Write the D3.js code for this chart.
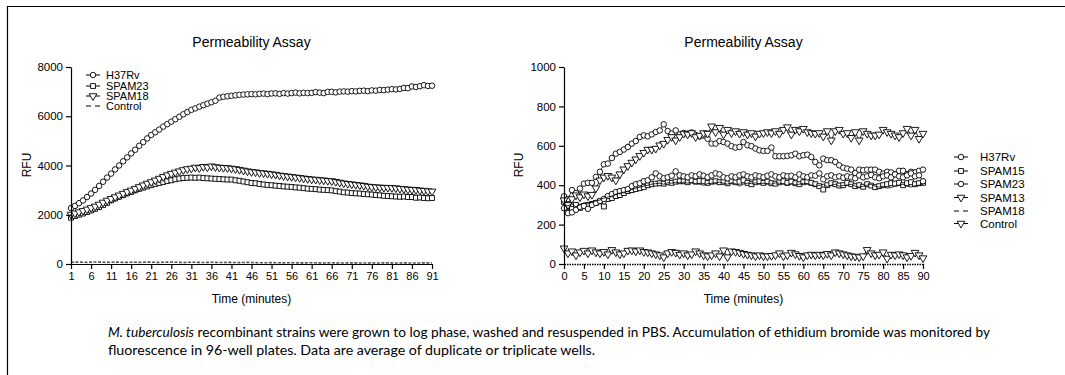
<!DOCTYPE html>
<html><head><meta charset="utf-8">
<script src="https://cdn.jsdelivr.net/npm/d3@7"></script>
<style>body{margin:0;background:#fff}svg{display:block}</style>
</head><body><svg id="c" width="1065" height="375"></svg>
<script>
// ---------------- DATA ----------------
const timeLeft = d3.range(1, 92);
const timeRight = d3.range(0, 91);
const leftXTicks = [1,6,11,16,21,26,31,36,41,46,51,56,61,66,71,76,81,86,91];
const rightXTicks = [0,5,10,15,20,25,30,35,40,45,50,55,60,65,70,75,80,85,90];
const leftYTicks = [0,2000,4000,6000,8000];
const rightYTicks = [0,200,400,600,800,1000];
const leftNames = ["H37Rv","SPAM23","SPAM18","Control"];
const rightNames = ["H37Rv","SPAM15","SPAM23","SPAM13","SPAM18","Control"];

const leftH37Rv = [2270,2360,2470,2580,2720,2860,3010,3170,3340,3510,
 3670,3840,4000,4170,4330,4490,4640,4800,4950,5100,
 5240,5350,5460,5580,5680,5780,5880,5980,6080,6170,
 6260,6320,6390,6450,6510,6570,6630,6760,6790,6810,
 6830,6850,6870,6880,6890,6900,6890,6910,6920,6900,
 6925,6930,6910,6940,6920,6940,6960,6930,6950,6940,
 6950,6980,6960,6940,6990,6990,6970,7000,7010,7000,
 7020,7010,7030,7040,7020,7050,7040,7070,7060,7080,
 7100,7090,7110,7150,7140,7210,7190,7220,7260,7230,
 7240];
const leftSPAM23 = [1880,1950,2000,2050,2110,2170,2240,2310,2390,2480,
 2585,2660,2730,2800,2870,2925,2990,3050,3100,3150,
 3200,3250,3290,3330,3370,3400,3440,3470,3490,3500,
 3510,3500,3510,3490,3480,3470,3460,3450,3440,3430,
 3430,3400,3380,3350,3320,3290,3280,3250,3230,3210,
 3200,3180,3170,3150,3140,3130,3110,3100,3080,3060,
 3050,3040,3020,3010,3000,2990,2960,2940,2910,2900,
 2880,2870,2860,2840,2830,2820,2800,2790,2770,2760,
 2750,2740,2730,2740,2720,2720,2690,2700,2680,2670,
 2680];
const leftSPAM18 = [2010,2060,2110,2160,2220,2280,2340,2420,2500,2580,
 2650,2720,2790,2860,2930,2990,3060,3130,3200,3270,
 3330,3400,3470,3540,3610,3670,3720,3770,3820,3860,
 3880,3920,3900,3950,3930,3970,3940,3920,3910,3900,
 3880,3860,3830,3800,3770,3740,3730,3700,3690,3670,
 3650,3630,3600,3580,3560,3540,3520,3500,3480,3460,
 3440,3430,3410,3400,3380,3370,3340,3310,3280,3260,
 3240,3220,3200,3180,3150,3130,3120,3110,3100,3100,
 3090,3080,3060,3050,3030,3020,3010,2990,2980,2960,
 2950];
const leftControl = [70,75,80,72,68,75,82,78,70,65,
 72,76,70,64,68,74,70,66,72,78,
 74,68,64,70,76,80,72,66,62,68,
 74,70,64,60,66,70,64,58,62,68,
 64,60,56,62,66,60,55,50,48,52,
 56,52,48,46,50,54,50,46,44,48,
 52,48,44,42,46,50,46,42,40,44,
 48,44,40,38,42,46,42,40,44,48,
 44,40,42,46,44,40,38,42,46,44,
 40];

const rightH37Rv = [344,330,375,360,383,408,412,412,442,468,
 506,510,538,560,569,581,594,611,624,645,
 653,648,658,670,678,709,675,662,678,658,
 665,660,668,655,648,652,636,611,611,624,
 619,611,598,591,594,619,603,598,586,577,
 574,574,591,547,547,547,549,552,560,547,
 552,555,543,518,501,535,527,527,518,501,
 489,484,479,462,479,476,479,479,479,468,
 459,468,465,456,473,473,456,468,465,473,
 479];
const rightSPAM15 = [315,290,280,300,285,295,300,305,310,318,
 292,330,335,345,350,360,370,375,380,385,
 390,400,405,408,410,408,415,412,418,420,
 420,415,425,418,422,420,412,418,420,415,
 417,410,420,415,418,425,412,405,415,420,
 412,418,410,408,415,420,412,418,410,405,
 415,420,412,405,395,378,400,410,405,398,
 400,412,405,395,400,392,405,398,390,395,
 400,405,410,408,412,400,410,415,405,410,
 412];
const rightSPAM23 = [283,258,262,275,290,295,280,300,310,320,
 330,345,355,365,370,375,380,395,405,410,
 420,425,440,460,445,435,440,448,470,450,
 445,440,450,445,455,448,440,450,460,455,
 440,435,445,440,450,455,445,440,450,445,
 440,448,455,445,440,450,445,448,440,455,
 445,440,450,448,460,430,445,450,440,445,
 438,445,440,435,450,440,445,452,440,435,
 445,450,440,455,445,440,450,460,445,450,
 420];
const rightSPAM13 = [324,300,330,349,340,354,345,352,385,425,
 440,448,440,425,456,481,498,515,532,549,
 565,581,581,586,603,611,631,645,628,645,
 662,658,665,645,652,665,662,699,670,692,
 658,682,665,675,662,670,658,665,648,662,
 665,670,665,675,662,682,695,658,682,675,
 687,670,665,662,665,648,675,628,675,682,
 662,665,641,670,628,675,662,653,653,658,
 682,670,662,653,645,665,687,653,682,636,
 662];
const rightSPAM18 = [300,295,305,290,300,310,305,315,320,325,
 335,340,345,355,360,365,370,378,385,390,
 395,400,405,408,410,405,412,410,415,412,
 415,410,412,408,405,400,408,410,412,415,
 410,405,412,408,395,405,410,408,412,405,
 410,408,405,412,410,405,400,408,402,405,
 410,405,400,395,398,405,392,400,405,395,
 398,400,405,395,390,395,400,405,395,390,
 395,385,388,395,400,405,395,390,398,400,
 405];
const rightControl = [80,55,65,45,60,68,55,70,60,55,
 62,50,72,60,50,55,68,70,65,70,
 62,60,55,50,45,35,55,62,58,48,
 55,45,50,65,55,45,40,45,55,40,
 70,35,65,62,58,52,48,45,40,45,
 40,40,42,45,55,40,45,58,50,42,
 35,45,48,45,48,45,52,45,60,55,
 50,45,40,38,35,40,72,55,45,48,
 60,28,48,45,50,45,35,42,58,45,
 30];

const captionItalic = "M. tuberculosis";
const captionLine1 = " recombinant strains were grown to log phase, washed and resuspended in PBS. Accumulation of ethidium bromide was monitored by";
const captionLine2 = "fluorescence in 96-well plates. Data are average of duplicate or triplicate wells.";

// ---------------- DRAWING ----------------
const svg = d3.select("#c");
const FONT = "'Liberation Sans', Arial, Helvetica, sans-serif";

svg.append("path").attr("d", "M7.5,375 V6.5 H1065")
  .attr("fill", "none").attr("stroke", "#000").attr("stroke-width", 1.2);

const symGen = {
  circle: d3.symbol(d3.symbolCircle, 24),
  square: d3.symbol(d3.symbolSquare, 24),
  tri: d3.symbol(d3.symbolTriangle, 26)
};

function drawMarker(g, type, cx, cy) {
  if (type === "none") return;
  const rot = type === "tri" ? " rotate(180)" : "";
  g.append("path").attr("d", symGen[type]())
    .attr("transform", `translate(${cx},${cy})${rot}`)
    .attr("fill", "#fff").attr("stroke", "#000").attr("stroke-width", 0.9);
}

function panel(cfg) {
  const x = d3.scaleLinear().domain(cfg.xDomain).range(cfg.xRange);
  const y = d3.scaleLinear().domain(cfg.yDomain).range([264, 67]);
  const g = svg.append("g");

  cfg.series.forEach(s => {
    const pts = cfg.times.map((t, i) => [t, s.values[i]]);
    const line = d3.line().x(d => x(d[0])).y(d => y(d[1]));
    g.append("path").attr("d", line(pts)).attr("fill", "none")
      .attr("stroke", s.color || "#000").attr("stroke-width", s.width || 0.8)
      .attr("stroke-dasharray", s.dash || null);
    if (s.marker !== "none") {
      const mg = g.append("g");
      pts.forEach(p => drawMarker(mg, s.marker, x(p[0]), y(p[1])));
    }
  });

  const fmt = d3.format("d");
  const xa = g.append("g").attr("transform", `translate(0,${y(0)})`)
    .call(d3.axisBottom(x).tickValues(cfg.xTicks).tickFormat(fmt).tickSize(5).tickPadding(3).tickSizeOuter(0));
  const ya = g.append("g").attr("transform", `translate(${x(cfg.xDomain[0])},0)`)
    .call(d3.axisLeft(y).tickValues(cfg.yTicks).tickFormat(fmt).tickSize(5).tickPadding(3).tickSizeOuter(0));
  [xa, ya].forEach(a => {
    a.selectAll("path,line").attr("stroke", "#000").attr("stroke-width", 1.2);
    a.selectAll("text").attr("font-family", FONT).attr("fill", "#000");
  });
  xa.selectAll("text").attr("font-size", 11);
  ya.selectAll("text").attr("font-size", 11.5);
  if (cfg.dottedAxis) {
    xa.select("path.domain").attr("stroke-dasharray", "1.5,1").attr("stroke-width", 1.6);
  }

  const cx = (cfg.xRange[0] + cfg.xRange[1]) / 2;
  svg.append("text").attr("x", cx).attr("y", 47).attr("text-anchor", "middle")
    .attr("font-family", FONT).attr("font-size", 14).text("Permeability Assay");
  svg.append("text").attr("x", cx).attr("y", 303).attr("text-anchor", "middle")
    .attr("font-family", FONT).attr("font-size", 12).text("Time (minutes)");
  svg.append("text").attr("transform", `translate(${cfg.rfuX},165) rotate(-90)`)
    .attr("text-anchor", "middle").attr("dy", "0.35em")
    .attr("font-family", FONT).attr("font-size", 12).text("RFU");

  const lg = svg.append("g");
  cfg.series.forEach((s, i) => {
    const ly = cfg.legendY[i], lx = cfg.legendX;
    if (s.marker === "none") {
      lg.append("path").attr("d", `M${lx-7},${ly}H${lx-2}M${lx+2},${ly}H${lx+7}`)
        .attr("stroke", "#000").attr("stroke-width", 1);
    } else {
      lg.append("path").attr("d", `M${lx-7},${ly}H${lx+7}`)
        .attr("stroke", "#000").attr("stroke-width", 1);
      drawMarker(lg, s.marker, lx, ly);
    }
    lg.append("text").attr("x", cfg.legendTextX).attr("y", ly).attr("dy", "0.36em")
      .attr("font-family", FONT).attr("font-size", cfg.legendSize).text(s.name);
  });
}

panel({
  times: timeLeft, xDomain: [1, 91], xRange: [71, 432], yDomain: [0, 8000],
  xTicks: leftXTicks, yTicks: leftYTicks, rfuX: 27, legendSize: 11,
  legendX: 93, legendTextX: 106, legendY: [75, 86, 96, 106],
  series: [
    {name: leftNames[0], values: leftH37Rv, marker: "circle"},
    {name: leftNames[1], values: leftSPAM23, marker: "square"},
    {name: leftNames[2], values: leftSPAM18, marker: "tri"},
    {name: leftNames[3], values: leftControl, marker: "none", color: "#555", width: 1.6, dash: "3,1.5"}
  ]
});

panel({
  times: timeRight, xDomain: [0, 90], xRange: [564, 923], yDomain: [0, 1000],
  xTicks: rightXTicks, yTicks: rightYTicks, rfuX: 519, dottedAxis: true, legendSize: 11.5,
  legendX: 961, legendTextX: 980, legendY: [157, 171, 184, 197.5, 211, 223.5],
  series: [
    {name: rightNames[0], values: rightH37Rv, marker: "circle"},
    {name: rightNames[1], values: rightSPAM15, marker: "square"},
    {name: rightNames[2], values: rightSPAM23, marker: "circle"},
    {name: rightNames[3], values: rightSPAM13, marker: "tri"},
    {name: rightNames[4], values: rightSPAM18, marker: "none"},
    {name: rightNames[5], values: rightControl, marker: "tri"}
  ]
});

const CAP = "Lato, 'Open Sans', 'Noto Sans', sans-serif";
const t1 = svg.append("text").attr("x", 108).attr("y", 337).attr("font-family", CAP)
  .attr("font-size", 12.5).attr("textLength", 882).attr("lengthAdjust", "spacingAndGlyphs");
t1.append("tspan").attr("font-style", "italic").text(captionItalic);
t1.append("tspan").text(captionLine1);
svg.append("text").attr("x", 108).attr("y", 355).attr("font-family", CAP)
  .attr("font-size", 12.5).attr("textLength", 487).attr("lengthAdjust", "spacingAndGlyphs")
  .text(captionLine2);
</script></body></html>
